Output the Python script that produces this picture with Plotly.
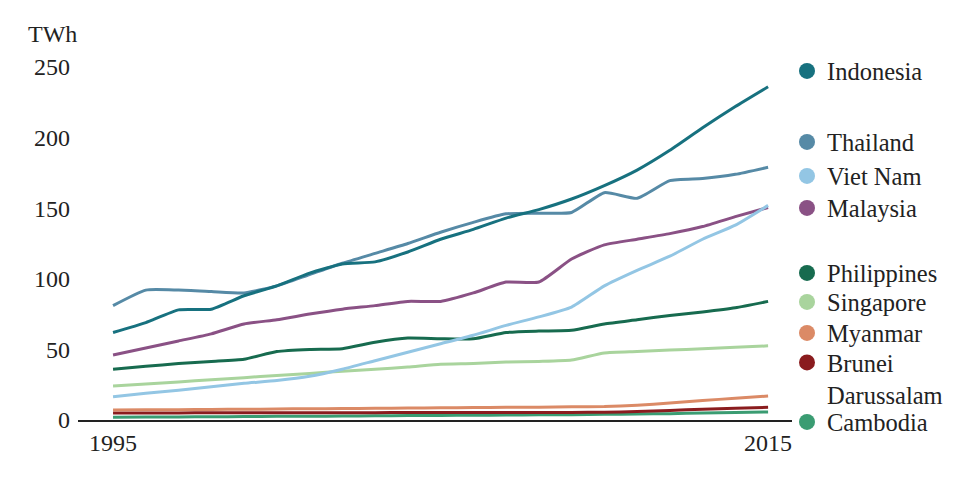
import plotly.graph_objects as go

years = list(range(1995, 2016))

indonesia = [62, 69, 78, 78.5, 88, 95, 104, 110.5, 112, 119, 128, 135, 143, 149, 156.5, 166, 177, 191, 207, 222, 236]
thailand = [81, 92, 92, 91, 90, 95, 103, 111, 118, 125, 133, 140, 146, 146.5, 147, 161, 157, 169.5, 171, 174, 179]
vietnam = [16.5, 19, 21, 23.5, 26, 28, 31, 36, 42, 48, 54, 60, 67, 73, 80, 95, 106, 116, 128, 138, 152]
malaysia = [46, 51, 56, 61, 68, 71, 75, 78.5, 81, 84, 84, 90, 97.7, 97.7, 114, 124, 128, 132, 137, 144, 150.5]
philippines = [36, 38, 40, 41.5, 43, 48.5, 50, 50.5, 55, 58, 57.5, 57.5, 62, 63, 63.5, 68, 71, 74, 76.5, 79.5, 84]
singapore = [24, 25.5, 27, 28.5, 30, 31.5, 33, 34.5, 36, 37.5, 39.5, 40, 41, 41.5, 42.5, 47.5, 48.5, 49.5, 50.5, 51.5, 52.5]
myanmar = [7, 7.2, 7.3, 7.5, 7.6, 7.8, 8, 8.1, 8.3, 8.5, 8.6, 8.8, 9, 9.1, 9.3, 9.5, 10.5, 12, 13.8, 15.4, 17]
brunei = [5, 5, 5, 5.1, 5.1, 5.1, 5.2, 5.2, 5.2, 5.3, 5.3, 5.3, 5.4, 5.4, 5.4, 5.5, 6, 6.8, 7.6, 8.3, 9]
cambodia = [2, 2.1, 2.2, 2.3, 2.4, 2.6, 2.7, 2.8, 3, 3.1, 3.2, 3.4, 3.5, 3.7, 3.8, 4, 4.2, 4.5, 4.9, 5.3, 5.7]

names = ["Indonesia", "Thailand", "Viet Nam", "Malaysia", "Philippines",
         "Singapore", "Myanmar", "Brunei<br>Darussalam", "Cambodia"]
series = [indonesia, thailand, vietnam, malaysia, philippines,
          singapore, myanmar, brunei, cambodia]
colors = ["#17717f", "#568aa6", "#93c6e4", "#8a5185", "#176b4f",
          "#a9d49d", "#db8a66", "#8a1c1e", "#3a9c72"]
# vertical centre (px from top of window) of each legend entry
legend_centres = [71, 142, 176, 208, 273, 302, 333, 378.5, 422]

FONT = "Liberation Serif"
OFF = 8                      # default page body margin
W, H = 956 - OFF, 480 - OFF

fig = go.Figure()

# lines (draw bottom series first)
for name, vals, col in reversed(list(zip(names, series, colors))):
    fig.add_trace(go.Scatter(
        x=years, y=vals, mode="lines", name=name,
        line=dict(color=col, width=3, shape="spline", smoothing=0.5),
        showlegend=False, hoverinfo="skip"))

# legend entries (circles), one legend box per entry
legend_layouts = {}
for i, (name, col, yc) in enumerate(zip(names, colors, legend_centres)):
    lid = "legend" if i == 0 else f"legend{i + 1}"
    fig.add_trace(go.Scatter(
        x=[None], y=[None], mode="markers", name=name,
        marker=dict(color=col, size=16, symbol="circle"),
        legend=lid, showlegend=True))
    legend_layouts[lid] = dict(
        xref="container", yref="container",
        x=(787 - OFF) / W, y=1 - (yc - OFF) / H,
        xanchor="left", yanchor="middle",
        itemsizing="trace", valign="top",
        bgcolor="rgba(0,0,0,0)", borderwidth=0,
        font=dict(family=FONT, size=24.5, color="#222222"),
        itemclick=False, itemdoubleclick=False)

fig.update_layout(**legend_layouts)

fig.update_layout(
    width=W, height=H,
    margin=dict(l=78 - OFF, r=W - (792 - OFF), t=67 - OFF, b=H - (420 - OFF),
                autoexpand=False),
    paper_bgcolor="white", plot_bgcolor="white",
    font=dict(family=FONT, size=24, color="#222222"),
    showlegend=True,
    xaxis=dict(
        range=[1993.93, 2015.73],
        tickvals=[1995, 2015], ticktext=["1995", "2015"],
        showgrid=False, zeroline=False,
        showline=True, linecolor="#222222", linewidth=1.5,
        ticks="", ticklabelstandoff=0,
        tickfont=dict(family=FONT, size=24, color="#222222")),
    yaxis=dict(
        range=[0, 250], tickvals=[0, 50, 100, 150, 200, 250],
        showgrid=False, zeroline=False, showline=False,
        ticks="", ticklabelstandoff=7,
        tickfont=dict(family=FONT, size=24, color="#222222")),
    annotations=[dict(
        text="TWh", xref="paper", yref="paper",
        x=-52 / 714, y=(420 - 34) / 353,
        xanchor="left", yanchor="middle", showarrow=False,
        font=dict(family=FONT, size=24, color="#222222"))],
)

fig.write_html("out.html")
